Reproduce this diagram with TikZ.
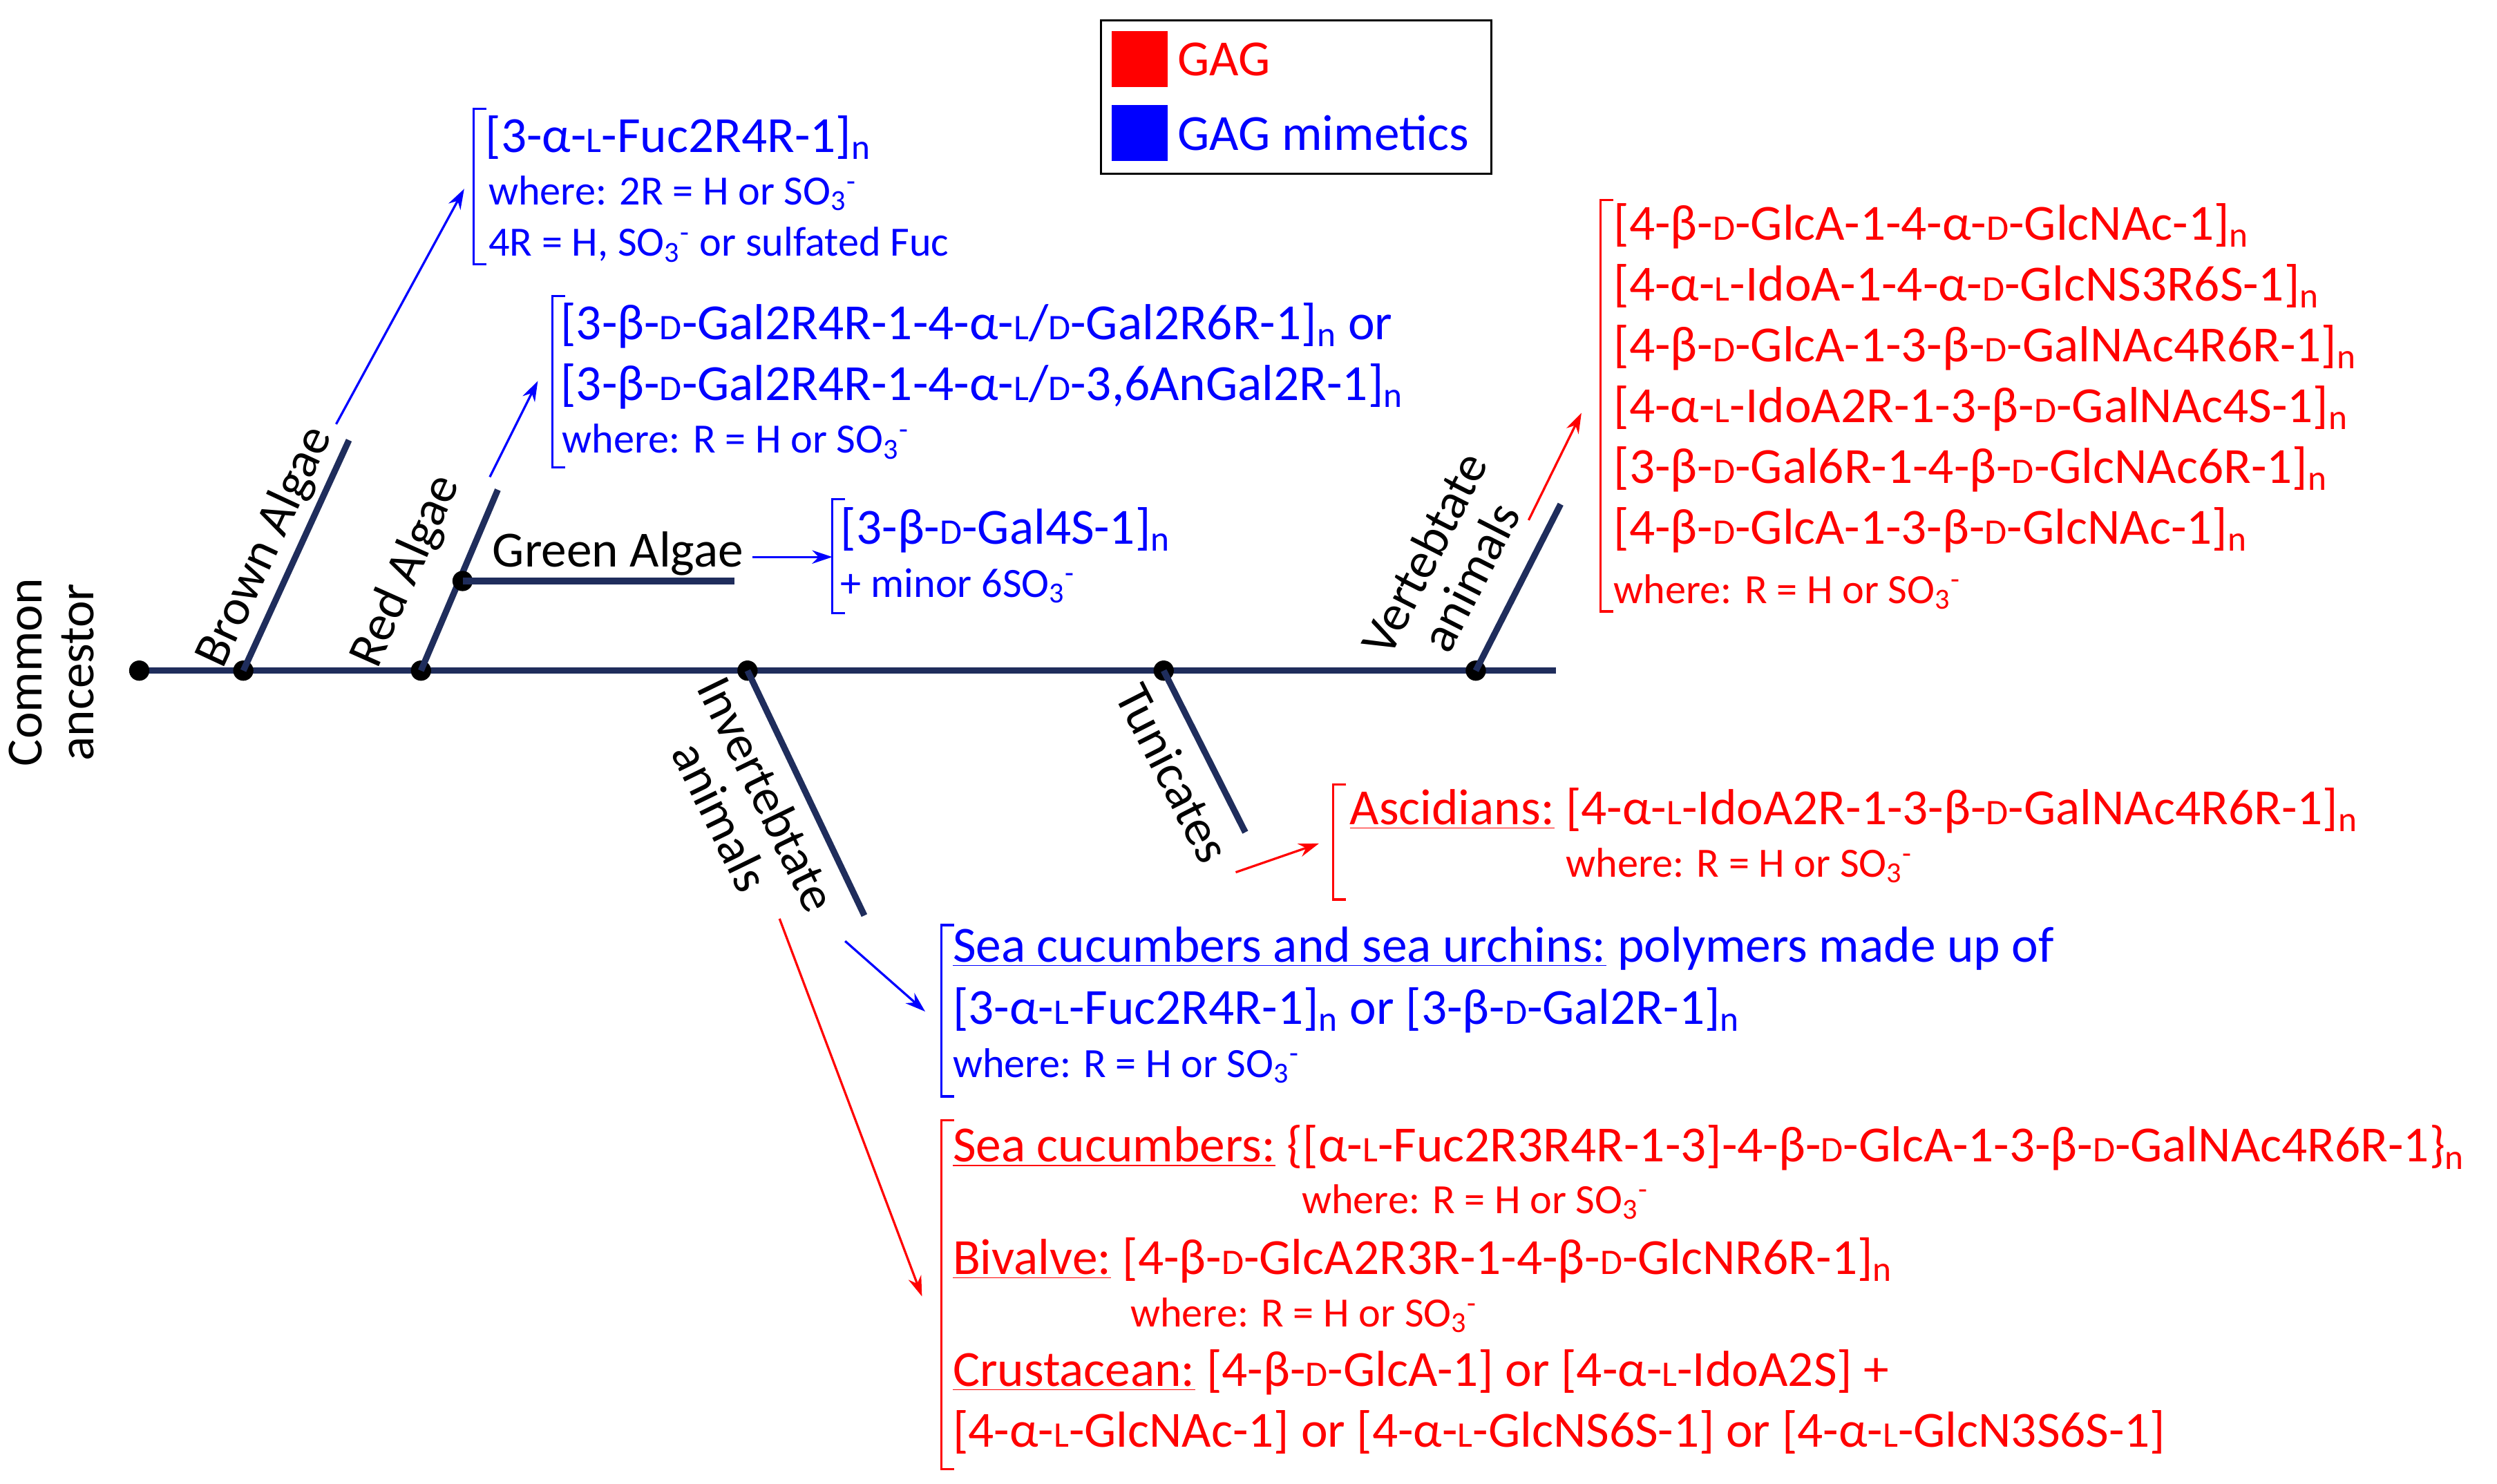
\documentclass[tikz,border=0pt]{standalone}
\usepackage{fontspec}
\setmainfont{Carlito}
\usetikzlibrary{arrows.meta}
\definecolor{navy}{HTML}{1F2D5C}
\definecolor{gblue}{HTML}{0000FF}
\definecolor{gred}{HTML}{FF0000}
\newcommand\sD{{\fontsize{16}{16}\selectfont D}}
\newcommand\sL{{\fontsize{16}{16}\selectfont L}}
\newcommand\al{α}
\newcommand\be{β}
\newcommand\SOt{SO\textsubscript{3}\textsuperscript{-}}
\newcommand\nn{\textsubscript{n}}
\begin{document}
\begin{tikzpicture}[x=0.025cm,y=-0.025cm,
  branch/.style={navy,line width=2.8pt},
  dot/.style={circle,fill=black,inner sep=0pt,minimum size=9pt},
  lab/.style={font=\fontsize{22.5}{26}\selectfont,inner sep=1pt},
  big/.style={font=\fontsize{22.5}{26}\selectfont,anchor=base west,inner sep=0pt},
  small/.style={font=\fontsize{18.5}{20}\selectfont,anchor=base west,inner sep=0pt},
  arr/.style={-{Stealth[length=9pt,width=6pt]},line width=1pt},
  brk/.style={line width=1pt}]
\useasboundingbox (0,0) rectangle (1560,927);
% legend
\node[draw,line width=1pt,minimum width=244*0.025cm,minimum height=96*0.025cm,anchor=north west] (leg) at (687,12) {};
\node[fill=gred,minimum size=35*0.025cm,inner sep=0pt] (rsq) at (712,37) {};
\node[fill=gblue,minimum size=35*0.025cm,inner sep=0pt] (bsq) at (712,83) {};
\node[lab,anchor=west,text=gred] (lg1) at (734,37) {GAG};
\node[lab,anchor=west,text=gblue] (lg2) at (734,83) {GAG mimetics};
% main line
\coordinate (m0) at (87,419);
\coordinate (m1) at (972,419);
\draw[branch] (m0) -- (m1);
\node[dot] (d0) at (87,419) {};
\node[dot] (d1) at (152,419) {};
\node[dot] (d2) at (263,419) {};
\node[dot] (d3) at (467,419) {};
\node[dot] (d4) at (727,419) {};
\node[dot] (d5) at (922,419) {};
\node[lab,rotate=90,align=center] (ca) at (32,420) {Common\\[-3pt]ancestor};
% branches
\coordinate (bt) at (218,275);
\draw[branch] (d1.center) -- (bt);
\node[lab,rotate=65] (bl) at (166,342) {Brown Algae};
\coordinate (rt) at (311,306);
\draw[branch] (d2.center) -- (rt);
\node[lab,rotate=66] (rl) at (254,357) {Red Algae};
\node[dot] (dg) at (289,363) {};
\coordinate (gt) at (459,363);
\draw[branch] (dg.center) -- (gt);
\node[lab] (gl) at (386,346) {Green Algae};
\coordinate (it) at (540,572);
\draw[branch] (d3.center) -- (it);
\node[lab,rotate=-64,align=center] (il) at (465,503) {Invertebtate\\[-3pt]animals};
\coordinate (tt) at (778,520);
\draw[branch] (d4.center) -- (tt);
\node[lab,rotate=-63] (tl) at (733,483) {Tunicates};
\coordinate (vt) at (975,315);
\draw[branch] (d5.center) -- (vt);
\node[lab,rotate=63,align=center] (vl) at (904,353) {Vertebtate\\[-3pt]animals};
% arrows
\coordinate (a1s) at (210,265); \coordinate (a1e) at (290,118);
\draw[arr,gblue] (a1s) -- (a1e);
\coordinate (a2s) at (306,298); \coordinate (a2e) at (336,238);
\draw[arr,gblue] (a2s) -- (a2e);
\coordinate (a3s) at (470,348); \coordinate (a3e) at (520,348);
\draw[arr,gblue] (a3s) -- (a3e);
\coordinate (a4s) at (528,588); \coordinate (a4e) at (578,632);
\draw[arr,gblue] (a4s) -- (a4e);
\coordinate (a5s) at (487,574); \coordinate (a5e) at (576,810);
\draw[arr,gred] (a5s) -- (a5e);
\coordinate (a6s) at (772,545); \coordinate (a6e) at (824,527);
\draw[arr,gred] (a6s) -- (a6e);
\coordinate (a7s) at (955,325); \coordinate (a7e) at (988,258);
\draw[arr,gred] (a7s) -- (a7e);
% brackets
\draw[brk,gblue] (304,68) -- (296,68) -- (296,165) -- (304,165);
\draw[brk,gblue] (353,185) -- (345,185) -- (345,292) -- (353,292);
\draw[brk,gblue] (528,312) -- (520,312) -- (520,383) -- (528,383);
\draw[brk,gred] (1008,125) -- (1000,125) -- (1000,382) -- (1008,382);
\draw[brk,gred] (841,490) -- (833,490) -- (833,562) -- (841,562);
\draw[brk,gblue] (596,578) -- (588,578) -- (588,685) -- (596,685);
\draw[brk,gred] (596,700) -- (588,700) -- (588,918) -- (596,918);
% blue texts
\begin{scope}[text=gblue]
\node[big] (t1) at (303,95) {[3-\al-\sL-Fuc2R4R-1]\nn};
\node[small] (t2) at (305,128) {where: 2R = H or \SOt};
\node[small] (t3) at (305,160) {4R = H, \SOt{} or sulfated Fuc};
\node[big] (t4) at (350,212) {[3-\be-\sD-Gal2R4R-1-4-\al-\sL/\sD-Gal2R6R-1]\nn{} or};
\node[big] (t5) at (350,250) {[3-\be-\sD-Gal2R4R-1-4-\al-\sL/\sD-3,6AnGal2R-1]\nn};
\node[small] (t6) at (351,283) {where: R = H or \SOt};
\node[big] (t7) at (525,340) {[3-\be-\sD-Gal4S-1]\nn};
\node[small] (t8) at (525,373) {+ minor 6\SOt};
\node[big] (t9) at (595,601) {\underline{Sea cucumbers and sea urchins:} polymers made up of};
\node[big] (t10) at (595,640) {[3-\al-\sL-Fuc2R4R-1]\nn{} or [3-\be-\sD-Gal2R-1]\nn};
\node[small] (t11) at (595,673) {where: R = H or \SOt};
\end{scope}
% red texts
\begin{scope}[text=gred]
\node[big] (v1) at (1008,150) {[4-\be-\sD-GlcA-1-4-\al-\sD-GlcNAc-1]\nn};
\node[big] (v2) at (1008,188) {[4-\al-\sL-IdoA-1-4-\al-\sD-GlcNS3R6S-1]\nn};
\node[big] (v3) at (1008,226) {[4-\be-\sD-GlcA-1-3-\be-\sD-GalNAc4R6R-1]\nn};
\node[big] (v4) at (1008,264) {[4-\al-\sL-IdoA2R-1-3-\be-\sD-GalNAc4S-1]\nn};
\node[big] (v5) at (1008,302) {[3-\be-\sD-Gal6R-1-4-\be-\sD-GlcNAc6R-1]\nn};
\node[big] (v6) at (1008,340) {[4-\be-\sD-GlcA-1-3-\be-\sD-GlcNAc-1]\nn};
\node[small] (v7) at (1008,377) {where: R = H or \SOt};
\node[big] (s1) at (843,515) {\underline{Ascidians:} [4-\al-\sL-IdoA2R-1-3-\be-\sD-GalNAc4R6R-1]\nn};
\node[small] (s2) at (978,548) {where: R = H or \SOt};
\node[big] (r1) at (595,726) {\underline{Sea cucumbers:} \{[\al-\sL-Fuc2R3R4R-1-3]-4-\be-\sD-GlcA-1-3-\be-\sD-GalNAc4R6R-1\}\nn};
\node[small] (r2) at (813,758) {where: R = H or \SOt};
\node[big] (r3) at (595,796) {\underline{Bivalve:} [4-\be-\sD-GlcA2R3R-1-4-\be-\sD-GlcNR6R-1]\nn};
\node[small] (r4) at (706,829) {where: R = H or \SOt};
\node[big] (r5) at (595,866) {\underline{Crustacean:} [4-\be-\sD-GlcA-1] or [4-\al-\sL-IdoA2S] +};
\node[big] (r6) at (595,904) {[4-\al-\sL-GlcNAc-1] or [4-\al-\sL-GlcNS6S-1] or [4-\al-\sL-GlcN3S6S-1]};
\end{scope}
\end{tikzpicture}
\end{document}
